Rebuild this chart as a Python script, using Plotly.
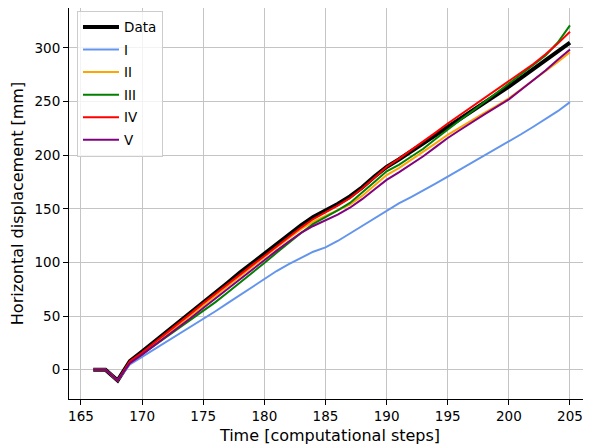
import plotly.graph_objects as go

steps = list(range(166, 206))

data_vals = [0, 0, -10, 8, 17, 26, 35, 44, 53.5, 63, 72, 81, 90.5, 99.5, 108.5, 117.5, 126, 134.5, 142.5,
             148, 154.5, 161.5, 170, 180, 189, 196, 203.5, 210.5, 218, 226, 233.5, 241, 248.5, 256, 264,
             272, 280, 288, 297, 305]
series_I = [0, 0, -10, 5, 12, 19, 26, 33, 40, 47, 54.5, 62, 69.5, 77, 85, 92, 98.5, 104.5, 110,
            114, 120, 127, 134, 141, 148.5, 155, 161, 167, 173.5, 180, 186.5, 193, 199.5, 206, 212.5,
            219.5, 226.5, 233.5, 241, 249.5]
series_II = [0, 0, -10, 7, 15, 24, 33, 42, 51, 60.5, 69.5, 78.5, 87.5, 96.5, 105, 114, 122.5, 131, 138,
             143.5, 148.5, 154, 162, 172, 181.5, 188, 195.5, 203, 211, 219, 226, 233, 239.5, 246, 253,
             261.5, 270, 278, 287, 296]
series_III = [0, 0, -10, 7, 14.5, 22.5, 30.5, 38.5, 46.5, 54.5, 63, 72, 81, 90, 99.5, 109, 118.5, 127.5, 136,
              142, 148.5, 155.5, 165, 175, 185, 191, 198.5, 206, 215, 224, 232.5, 241, 249.5, 258, 267,
              275, 284, 293, 305, 321]
series_IV = [0, 0, -10, 8, 16, 25, 34, 43, 52.5, 62, 71, 80, 89, 97.5, 106, 115, 124, 132.5, 140.5,
             146.5, 153, 160, 169, 179, 189, 196.5, 204.5, 212.5, 221, 229.5, 237.5, 245, 253, 261, 269,
             277, 285, 294, 304, 315]
series_V = [0, 0, -10, 6, 14, 22.5, 31, 39.5, 48.5, 57.5, 66.5, 75.5, 84.5, 93.5, 102.5, 111, 119.5, 127.5, 134,
            139, 144.5, 151, 159, 168, 177, 184, 191.5, 199, 207.5, 216, 223.5, 231, 238, 245, 252,
            261, 270, 279, 289, 298.5]

names = ["Data", "I", "II", "III", "IV", "V"]
colors = ["black", "#6495ED", "#FFA500", "#008000", "#FF0000", "#800080"]
widths = [4.0, 2.0, 2.0, 2.0, 2.0, 2.0]
values = [data_vals, series_I, series_II, series_III, series_IV, series_V]

x_ticks = [165, 170, 175, 180, 185, 190, 195, 200, 205]
y_ticks = [0, 50, 100, 150, 200, 250, 300]

fig = go.Figure()
for n, c, w, v in zip(names, colors, widths, values):
    fig.add_trace(go.Scatter(x=steps, y=v, mode="lines", name=n, legendgroup=n,
                             line=dict(color=c, width=w)))

font = dict(family="DejaVu Sans", size=13.5, color="black")
# The page body has an 8px default margin, so the figure is drawn 8px in from the window edge.
fig.update_layout(
    width=583, height=439,
    margin=dict(l=61, r=0, t=0, b=48),
    paper_bgcolor="white", plot_bgcolor="white",
    font=font,
    showlegend=True,
    legend=dict(x=0.0153, y=0.993, xanchor="left", yanchor="top",
                bgcolor="rgba(255,255,255,0.8)", bordercolor="#cccccc", borderwidth=1,
                font=font, tracegroupgap=2, itemwidth=36),
)
fig.update_xaxes(range=[164.02, 206.72], tickvals=x_ticks, ticktext=[str(t) for t in x_ticks],
                 showgrid=True, gridcolor="#c4c4c4", gridwidth=1, automargin=False,
                 showline=True, linecolor="black", linewidth=1, mirror=True,
                 ticks="outside", ticklen=5, tickcolor="black", zeroline=False,
                 title=dict(text="Time [computational steps]", standoff=6))
fig.update_yaxes(range=[-27.3, 337.2], tickvals=y_ticks, ticktext=[str(t) for t in y_ticks],
                 showgrid=True, gridcolor="#c4c4c4", gridwidth=1, automargin=False,
                 showline=True, linecolor="black", linewidth=1, mirror=False,
                 ticks="outside", ticklen=5, tickcolor="black", zeroline=False,
                 title=dict(text="Horizontal displacement [mm]", standoff=8))

fig.write_html("out.html")
